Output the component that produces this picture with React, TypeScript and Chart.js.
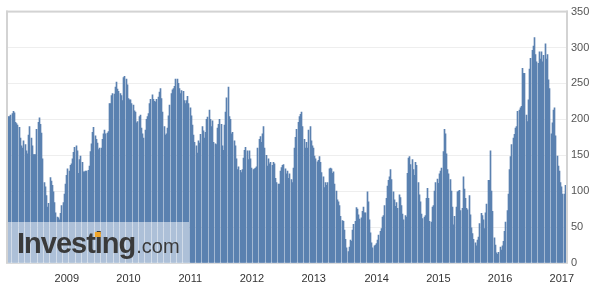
import React, { useEffect, useRef } from 'react';
import { Chart, registerables } from 'chart.js';

Chart.register(...registerables);

// Weekly net positions (thousands of contracts), first report 2008-01-29
const net2008 = [
  204, 204, 206, 208, 211, 209, 196, 194, 192, 189,
  174, 163, 160, 170, 165, 156, 152, 178, 190, 174,
  163, 151, 151, 151, 186, 196, 202, 193, 181, 145,
  112, 106, 94, 78, 83, 119, 114, 108, 99, 84,
  70, 64, 63, 60, 69, 80, 84, 96, 110,
];
const net2009 = [
  122, 131, 128, 136, 138,
  145, 154, 161, 163, 156, 125, 144, 149, 140, 127,
  127, 128, 128, 129, 135, 155, 166, 182, 189, 177,
  172, 167, 158, 160, 160, 172, 180, 185, 180, 181,
  183, 222, 222, 233, 236, 235, 245, 252, 242, 239,
  236, 233, 226, 258, 260, 256, 248,
];
const net2010 = [
  229, 227, 227, 222, 220, 212, 210,
  195, 197, 204, 206, 188, 180, 174, 185, 200, 204,
  208, 222, 228, 234, 228, 225, 224, 228, 231, 238,
  243, 229, 210, 190, 178, 180, 188, 205, 220, 236,
  241, 243, 246, 256, 256, 250, 243, 236, 240, 239,
  226, 222, 226, 232, 222,
];
const net2011 = [
  216, 205, 192, 178, 168, 163, 153, 170, 167,
  179, 190, 184, 174, 182, 200, 203, 213, 200, 190,
  198, 168, 166, 165, 188, 193, 200, 193, 163, 157,
  192, 210, 230, 245, 204, 200, 180, 182, 170, 163,
  145, 130, 134, 129, 126, 130, 146, 157, 161, 156,
  144, 156, 145,
];
const net2012 = [
  132, 130, 131, 132, 134, 160, 172, 176, 168, 180, 190,
  160, 150, 135, 145, 138, 140, 136, 140, 138, 118,
  112, 110, 110, 128, 133, 136, 137, 131, 124, 128,
  118, 124, 116, 112, 132, 160, 175, 186, 196, 204,
  207, 210, 190, 172, 160, 168, 160, 185, 190, 170,
  163,
];
const net2013 = [
  160, 149, 145, 141, 143, 148, 140, 126, 120,
  105, 112, 108, 112,
  131, 132, 131, 125, 127, 110, 100, 88, 85, 80,
  65, 59, 58, 46, 33, 21, 16, 22, 32, 30,
  46, 54, 58, 77, 75, 67, 61, 63, 72, 78,
  70, 70, 99, 85, 60, 42, 28, 21, 24, 25,
];
const net2014 = [
  27, 32, 39, 44, 48, 64, 66, 80, 90, 107,
  115, 120, 130, 116,
  99, 88, 79, 84, 76, 95, 91, 80, 68, 60,
  66, 64, 125, 146, 148, 137, 144, 130, 122, 140,
  136, 112, 95, 85, 68, 62, 64, 66, 90, 104,
  90, 58, 57, 78, 80, 100, 112, 117,
];
const net2015 = [
  111, 124,
  128, 132, 155, 186, 180, 152, 130, 124, 116, 100,
  78, 53, 65, 78,
  99, 100, 101, 73, 76, 120, 103, 90, 76, 74,
  94, 67, 49, 41, 33, 28, 24, 32, 36, 55,
  69, 66, 60, 48, 70, 82, 115, 115, 156, 100,
  72, 35, 25, 14, 12, 15,
];
const net2016 = [
  22, 18, 24, 30,
  44, 57, 73, 96, 130, 148, 165, 174, 179, 188,
  190, 211, 213, 216, 218, 271, 264, 264, 206, 197,
  227, 270, 285, 296, 302, 314, 290, 280, 278, 294,
  284, 294, 280, 289, 305, 284, 290, 255, 243, 180,
  195, 213, 216, 177, 149, 135, 128, 112,
];
const net2017 = [106, 96, 96, 108];

const yearLabels = ['2009', '2010', '2011', '2012', '2013', '2014', '2015', '2016', '2017'];
const yTicks = [0, 50, 100, 150, 200, 250, 300, 350];

const values = [
  ...net2008, ...net2009, ...net2010, ...net2011, ...net2012,
  ...net2013, ...net2014, ...net2015, ...net2016, ...net2017,
];

const START = Date.UTC(2008, 0, 29);
const WEEK = 7 * 86400000;
const dates = values.map((_, i) => new Date(START + i * WEEK));
const labels = dates.map((d) => d.toISOString().slice(0, 10));
const yearTickMap = new Map<number, string>();
dates.forEach((d, i) => {
  if (i > 0 && d.getUTCFullYear() !== dates[i - 1].getUTCFullYear()) {
    const y = String(d.getUTCFullYear());
    if (yearLabels.includes(y)) yearTickMap.set(i, y);
  }
});

const BAR = '#5b81b0';
const FONT = '"Liberation Sans", Arial, sans-serif';

const crispBars = {
  id: 'crispBars',
  beforeDatasetsDraw(chart: any) {
    const meta = chart.getDatasetMeta(0);
    meta.data.forEach((el: any) => {
      const left = Math.round(el.x - el.width / 2);
      el.x = left + 0.5;
      el.width = 1;
    });
  },
};

const frameAndMark = {
  id: 'frameAndMark',
  afterDatasetsDraw(chart: any) {
    const ctx = chart.ctx as CanvasRenderingContext2D;
    const a = chart.chartArea;
    ctx.save();
    // frame
    ctx.fillStyle = '#d3d3d3';
    ctx.fillRect(a.left - 2, a.top - 1, 2, a.bottom - a.top + 1);
    ctx.fillRect(a.left - 2, a.top - 1, a.right - a.left + 4, 2);
    ctx.fillRect(a.right, a.top - 1, 2, a.bottom - a.top + 1);
    ctx.fillStyle = '#dadada';
    ctx.fillRect(a.left - 2, a.bottom, a.right - a.left + 4, 1);

    // watermark
    const boxL = a.left;
    const boxT = a.bottom - 41;
    ctx.fillStyle = 'rgba(255,255,255,0.5)';
    ctx.fillRect(boxL, boxT, 181, 41);

    const tx = boxL + 9;
    const base = a.bottom - 10;
    ctx.fillStyle = '#3a3a3a';
    ctx.textBaseline = 'alphabetic';
    ctx.textAlign = 'left';
    ctx.font = `bold 29px ${FONT}`;
    (ctx as any).letterSpacing = '-1px';
    ctx.fillText('Investing', tx, base);
    const wInvest = ctx.measureText('Invest').width;
    const wI = ctx.measureText('i').width;
    const wAll = ctx.measureText('Investing').width;
    ctx.fillStyle = '#f0a52a';
    ctx.fillRect(tx + wInvest + wI / 2 - 3.5, base - 21, 6, 5);
    (ctx as any).letterSpacing = '0px';
    ctx.fillStyle = '#3a3a3a';
    ctx.font = `20px ${FONT}`;
    ctx.fillText('.com', tx + wAll + 1, base);
    ctx.restore();
  },
};

export default function App() {
  const ref = useRef<HTMLCanvasElement | null>(null);

  useEffect(() => {
    document.body.style.margin = '0';
    const canvas = ref.current;
    if (!canvas) return;
    const chart = new Chart(canvas, {
      type: 'bar',
      data: {
        labels,
        datasets: [
          {
            data: values,
            backgroundColor: BAR,
            borderWidth: 0,
            barPercentage: 1,
            categoryPercentage: 1,
          },
        ],
      },
      options: {
        responsive: false,
        animation: false,
        devicePixelRatio: 1,
        layout: { padding: { left: 8, top: 9, right: 0, bottom: 0 } },
        plugins: {
          legend: { display: false },
          tooltip: { enabled: false },
        },
        scales: {
          x: {
            type: 'category',
            position: 'bottom',
            grid: { display: false, drawTicks: false },
            border: { display: false },
            afterBuildTicks: (scale: any) => {
              scale.ticks = Array.from(yearTickMap.keys()).map((v) => ({ value: v }));
            },
            afterFit: (scale: any) => {
              scale.height = 30;
            },
            ticks: {
              autoSkip: false,
              maxRotation: 0,
              minRotation: 0,
              padding: 9,
              color: '#333333',
              font: { family: FONT, size: 11 },
              callback: (v: any) => yearTickMap.get(Number(v)) ?? '',
            },
          },
          y: {
            position: 'right',
            min: 0,
            max: 350,
            grid: { color: '#eeeeee', lineWidth: 1, drawTicks: false },
            border: { display: false },
            afterBuildTicks: (scale: any) => {
              scale.ticks = yTicks.map((v) => ({ value: v }));
            },
            afterFit: (scale: any) => {
              scale.width = 45;
            },
            ticks: {
              padding: 5,
              color: '#555555',
              font: { family: FONT, size: 11 },
            },
          },
        },
      },
      plugins: [crispBars, frameAndMark],
    } as any);
    return () => chart.destroy();
  }, []);

  return (
    <div style={{ position: 'fixed', left: 0, top: 0, width: 611, height: 293, background: '#fff' }}>
      <canvas ref={ref} width={611} height={293} style={{ display: 'block', width: 611, height: 293 }} />
    </div>
  );
}
